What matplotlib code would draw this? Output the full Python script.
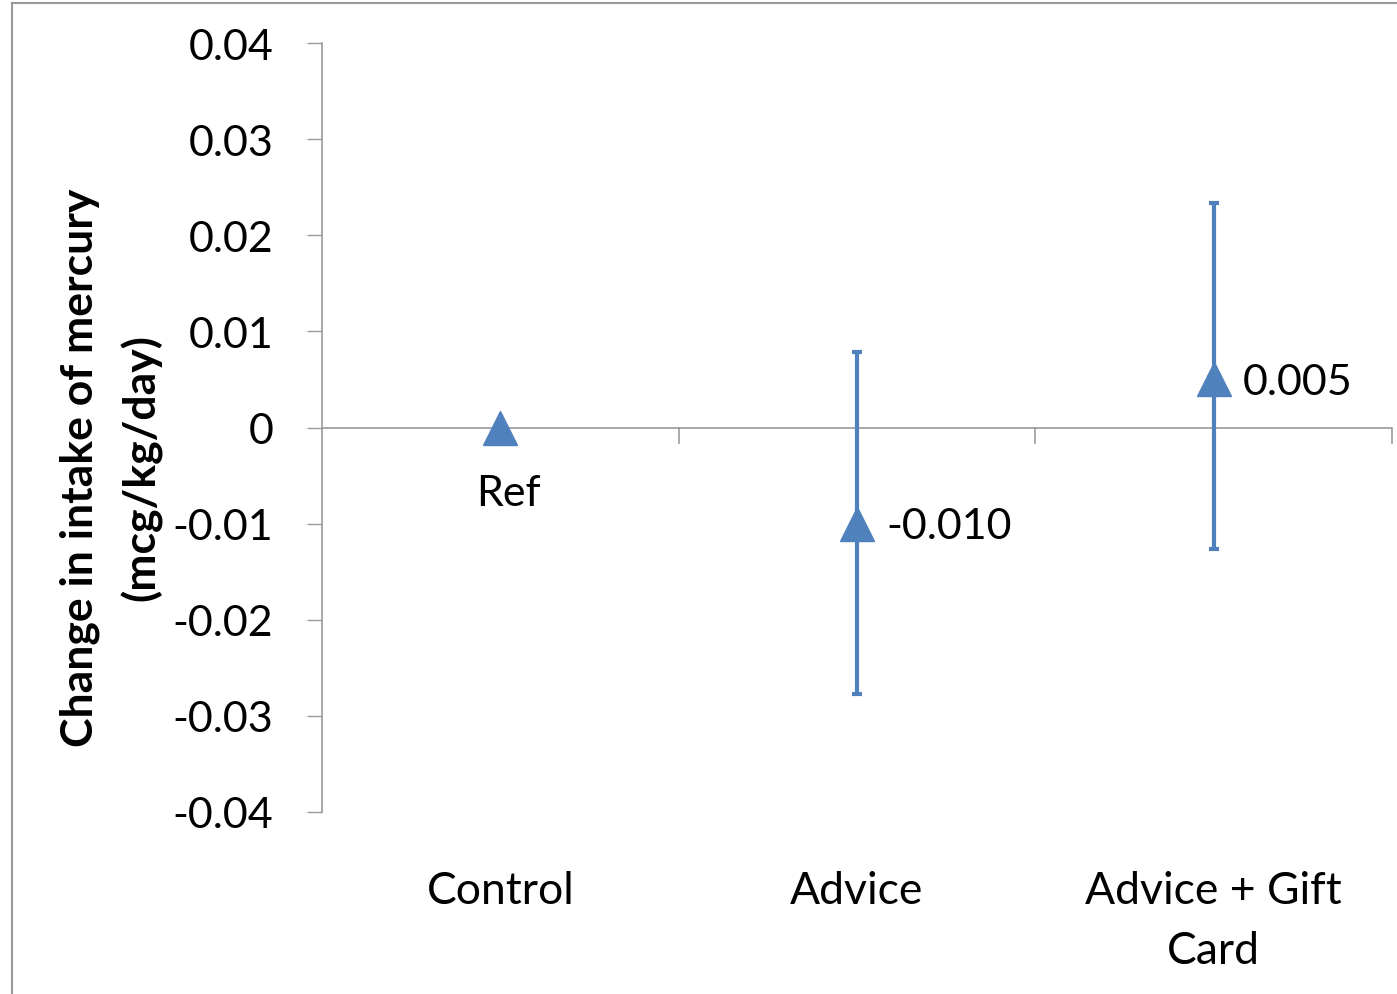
import numpy as np
import matplotlib.pyplot as plt
from matplotlib.lines import Line2D

# groups and estimates (change in intake, mcg/kg/day)
groups = ["Control", "Advice", "Advice + Gift\nCard"]
estimate = [0.0, -0.010, 0.005]
ci_low = [np.nan, -0.0277, -0.0126]
ci_high = [np.nan, 0.0079, 0.0234]
point_labels = ["Ref", "-0.010", "0.005"]

yticks = [0.04, 0.03, 0.02, 0.01, 0, -0.01, -0.02, -0.03, -0.04]
ytick_labels = ["0.04", "0.03", "0.02", "0.01", "0", "-0.01", "-0.02", "-0.03", "-0.04"]

blue = "#4F81BD"
gray = "#999999"
fs = 31

plt.rcParams['font.family'] = ['Lato', 'DejaVu Sans']

fig = plt.figure(figsize=(13.97, 9.95), dpi=100)
ax = fig.add_axes([322/1397, 182/995, 1070/1397, 769/995])

x = np.arange(len(groups))
est = np.array(estimate)
lo = np.array(ci_low)
hi = np.array(ci_high)
yerr = np.vstack([est - lo, hi - est])
yerr = np.nan_to_num(yerr)

ax.errorbar(x[1:], est[1:], yerr=yerr[:, 1:], fmt='none', ecolor=blue,
            elinewidth=3, capsize=3.5, capthick=3, zorder=2)
ax.plot(x, est, linestyle='none', marker='^', ms=25, color=blue,
        markeredgecolor=blue, zorder=3)

# value labels
ax.annotate(point_labels[0], (x[0], est[0]), xytext=(6, -47),
            textcoords='offset points', ha='center', va='center', fontsize=fs)
for i in (1, 2):
    ax.annotate(point_labels[i], (x[i], est[i]), xytext=(21, -1.5),
                textcoords='offset points', ha='left', va='center', fontsize=fs)

ax.set_xlim(-0.5, 2.5)
ax.set_ylim(-0.04, 0.04)
ax.set_yticks(yticks)
ax.set_yticklabels(ytick_labels, fontsize=fs)
ax.tick_params(axis='y', direction='out', length=11, width=1, color=gray, pad=24)

# horizontal zero axis with ticks between categories
ax.axhline(0, color=gray, lw=1.2, zorder=1)
for b in [0.5, 1.5, 2.5]:
    ax.plot([b, b], [0, -0.0016], color=gray, lw=1.2, clip_on=False)

ax.set_xticks([])
for s in ['top', 'right', 'bottom']:
    ax.spines[s].set_visible(False)
ax.spines['left'].set_color(gray)
ax.spines['left'].set_linewidth(1.2)

# category names below the plot
for i, g in enumerate(groups):
    ax.text(x[i], -0.046, g, ha='center', va='top', fontsize=fs + 1,
            linespacing=1.6)

fig.text(80/1397, 0.53, "Change in intake of mercury", rotation=90,
         ha='center', va='center', fontsize=fs + 1, fontweight='bold')
fig.text(141/1397, 0.53, "(mcg/kg/day)", rotation=90,
         ha='center', va='center', fontsize=fs + 1, fontweight='bold')

# outer frame
fig.add_artist(Line2D([12/1397, 12/1397], [0, 1 - 4/995], color=gray, lw=1.5))
fig.add_artist(Line2D([12/1397, 1], [1 - 4/995, 1 - 4/995], color=gray, lw=1.5))

fig.savefig("out.png", dpi=100)
